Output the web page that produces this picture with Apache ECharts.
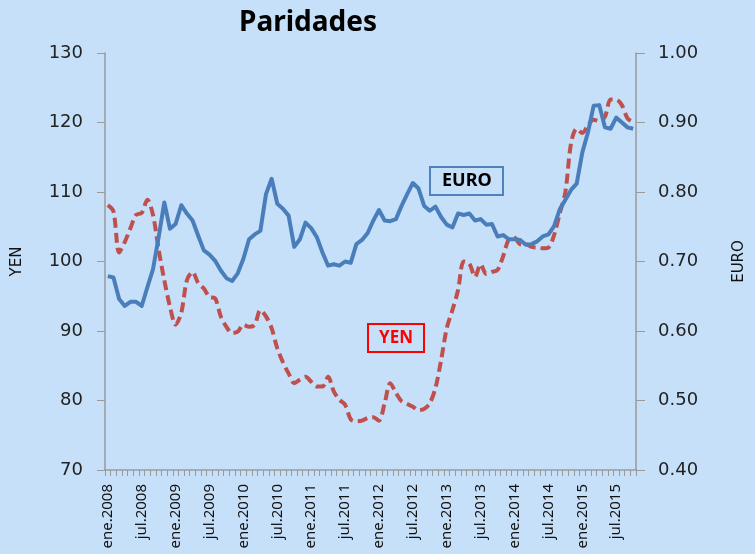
<!DOCTYPE html>
<html>
<head>
<meta charset="utf-8">
<script src="https://cdn.jsdelivr.net/npm/echarts@6/dist/echarts.min.js"></script>
<style>
  html, body { margin: 0; padding: 0; background: #c6e0fa; }
  #chart { width: 755px; height: 554px; }
</style>
</head>
<body>
<div id="chart"></div>
<script>
// meses ene.2008 .. oct.2015
const monthNames = ['ene', 'feb', 'mar', 'abr', 'may', 'jun', 'jul', 'ago', 'sep', 'oct', 'nov', 'dic']
const years = [2008, 2009, 2010, 2011, 2012, 2013, 2014, 2015]
const lastMonthCount = 10 // 2015 ends in oct

const yenTicks = [70, 80, 90, 100, 110, 120, 130]
const euroTicks = ['0.40', '0.50', '0.60', '0.70', '0.80', '0.90', '1.00']

const yen = [
  108.1, 107.2, 101.3, 102.8, 104.8, 106.7, 107.0, 108.9, 106.7, 101.7, 97.3, 93.5,
  90.9, 92.6, 97.3, 98.5, 96.9, 96.1, 94.9, 94.7, 92.1, 90.6, 89.7, 89.9,
  90.9, 90.6, 90.9, 93.0, 92.1, 90.4, 87.5, 85.5, 83.9, 82.5, 83.0, 83.4,
  82.7, 82.0, 82.0, 83.4, 81.3, 80.1, 79.4, 77.3, 77.0, 77.1, 77.5, 77.6,
  77.1, 79.6, 82.5, 81.1, 79.9, 79.5, 79.1, 78.6, 78.8, 79.6, 81.8, 85.8,
  90.4, 93.0, 95.9, 100.0, 99.7, 97.8, 99.6, 98.2, 98.5, 98.8, 100.8, 103.2,
  103.4, 102.5, 102.5, 102.1, 102.0, 101.9, 102.0, 103.8, 106.9, 110.0, 117.0, 119.1,
  118.5, 119.6, 120.4, 120.2, 120.8, 123.3, 123.3, 122.5, 120.6, 120.1
]

const euro = [
  0.679, 0.677, 0.646, 0.636, 0.642, 0.642, 0.636, 0.663, 0.689, 0.735, 0.785, 0.747,
  0.754, 0.781, 0.769, 0.759, 0.737, 0.716, 0.710, 0.701, 0.687, 0.676, 0.672, 0.683,
  0.704, 0.732, 0.739, 0.744, 0.797, 0.819, 0.783, 0.776, 0.766, 0.721, 0.732, 0.756,
  0.748, 0.735, 0.713, 0.694, 0.696, 0.694, 0.700, 0.698, 0.725, 0.731, 0.741, 0.759,
  0.774, 0.759, 0.758, 0.761, 0.780, 0.797, 0.813, 0.805, 0.780, 0.773, 0.779, 0.764,
  0.753, 0.749, 0.769, 0.767, 0.769, 0.759, 0.761, 0.753, 0.754, 0.736, 0.738, 0.732,
  0.732, 0.731, 0.724, 0.725, 0.729, 0.736, 0.739, 0.751, 0.775, 0.789, 0.803, 0.812,
  0.857, 0.886, 0.924, 0.925, 0.893, 0.891, 0.907, 0.900, 0.893, 0.891
]

const months = []
years.forEach((y, k) => {
  const n = k === years.length - 1 ? lastMonthCount : 12
  for (let m = 0; m < n; m++) months.push(monthNames[m] + '.' + y)
})

const axisGray = '#9a9a9a'
const chart = echarts.init(document.getElementById('chart'))

chart.setOption({
  backgroundColor: '#c6e0fa',
  animation: false,
  title: [{
    text: 'Paridades',
    left: 303,
    textAlign: 'center',
    top: 4,
    textStyle: { fontFamily: 'Noto Sans', fontWeight: 'bold', fontSize: 28, color: '#000' }
  }, {
    text: 'EURO',
    left: 430,
    top: 167,
    padding: [5, 12, 5, 12],
    borderColor: '#4f81bd',
    borderWidth: 2,
    textStyle: { fontFamily: 'Noto Sans', fontWeight: 'bold', fontSize: 18, color: '#000' }
  }, {
    text: 'YEN',
    left: 368,
    top: 324,
    padding: [6, 11, 5, 11],
    borderColor: '#ff0000',
    borderWidth: 2,
    textStyle: { fontFamily: 'Noto Sans', fontWeight: 'bold', fontSize: 17, color: '#ff0000' }
  }],
  grid: {
    left: 105,
    right: 113,
    top: 53,
    bottom: 84
  },
  xAxis: {
    type: 'category',
    data: months,
    boundaryGap: true,
    axisLine: { lineStyle: { color: axisGray, width: 1.5 } },
    axisTick: { show: true, interval: 0, length: 6, lineStyle: { color: axisGray } },
    axisLabel: {
      interval: 5,
      rotate: 90,
      margin: 14,
      fontFamily: 'Noto Sans',
      fontSize: 15,
      color: '#111'
    },
    splitLine: { show: false }
  },
  yAxis: [{
    type: 'value',
    name: 'YEN',
    nameLocation: 'middle',
    nameRotate: 90,
    nameGap: 80,
    nameTextStyle: { fontFamily: 'DejaVu Sans', fontSize: 15, color: '#111' },
    min: yenTicks[0],
    max: yenTicks[yenTicks.length - 1],
    interval: 10,
    axisLine: { show: true, lineStyle: { color: axisGray, width: 1.5 } },
    axisTick: { show: true, length: 8, lineStyle: { color: axisGray } },
    axisLabel: { margin: 22, fontFamily: 'DejaVu Sans', fontSize: 18, color: '#222' },
    splitLine: { show: false }
  }, {
    type: 'value',
    name: 'EURO',
    position: 'right',
    nameLocation: 'middle',
    nameRotate: 90,
    nameGap: 96,
    nameTextStyle: { fontFamily: 'DejaVu Sans', fontSize: 15, color: '#111' },
    min: 0.4,
    max: 1.0,
    interval: 0.1,
    axisLine: { show: true, lineStyle: { color: axisGray, width: 1.5 } },
    axisTick: { show: true, length: 9, lineStyle: { color: axisGray } },
    axisLabel: {
      margin: 22,
      fontFamily: 'DejaVu Sans',
      fontSize: 18,
      color: '#222',
      formatter: v => euroTicks[Math.round((v - 0.4) * 10)]
    },
    splitLine: { show: false }
  }],
  series: [{
    name: 'YEN',
    type: 'line',
    yAxisIndex: 0,
    data: yen,
    showSymbol: false,
    smooth: 0.3,
    lineStyle: { color: '#c0504d', width: 4, type: [10, 5], cap: 'butt' },
    z: 2
  }, {
    name: 'EURO',
    type: 'line',
    yAxisIndex: 1,
    data: euro,
    showSymbol: false,
    lineStyle: { color: '#4a7ebb', width: 4, join: 'round' },
    z: 3
  }]
})
</script>
</body>
</html>
